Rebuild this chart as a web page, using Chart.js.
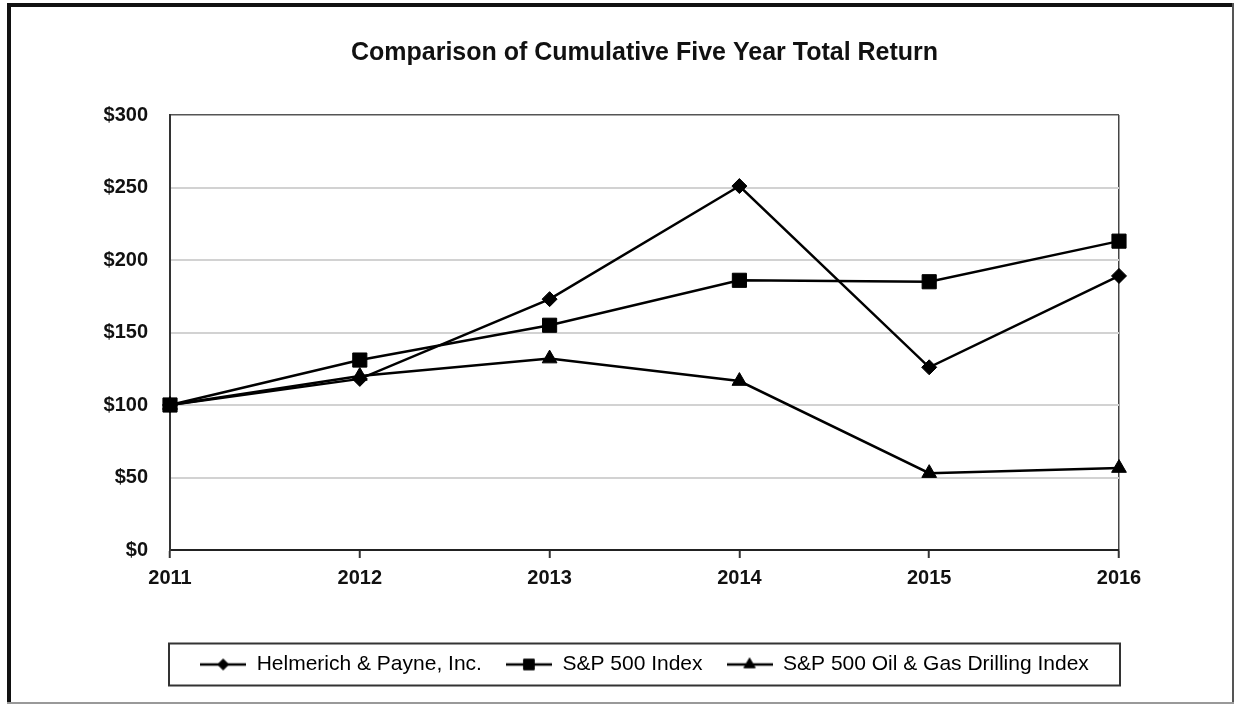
<!DOCTYPE html>
<html>
<head>
<meta charset="utf-8">
<title>Comparison of Cumulative Five Year Total Return</title>
<script src="https://cdn.jsdelivr.net/npm/chart.js@4.4.1/dist/chart.umd.min.js"></script>
<style>
    html, body { margin: 0; padding: 0; background: #fff; }
    #wrap { position: relative; width: 1235px; height: 704px; }
</style>
</head>
<body>
<div id="wrap"><canvas id="returnChart"></canvas></div>
<script>
// ── Data ────────────────────────────────────────────────────────────
const years = ['2011', '2012', '2013', '2014', '2015', '2016'];
const helmerichPayne = [100, 118, 173, 251, 126, 189];
const sp500 = [100, 131, 155, 186, 185, 213];
const oilGasDrilling = [100, 120, 132, 116.5, 53, 56.5];
const yTickLabels = ['$0', '$50', '$100', '$150', '$200', '$250', '$300'];

const FONT = "'Liberation Sans', Arial, Helvetica, sans-serif";

// legend icon: short line with the marker in the middle
function legendIcon(style, radius) {
    const c = document.createElement('canvas');
    c.width = 46; c.height = 20;
    const ctx = c.getContext('2d');
    ctx.strokeStyle = '#000';
    ctx.lineWidth = 2.5;
    ctx.beginPath();
    ctx.moveTo(0, 10); ctx.lineTo(46, 10);
    ctx.stroke();
    ctx.fillStyle = '#000';
    ctx.lineWidth = 1;
    Chart.helpers.drawPoint(ctx, { pointStyle: style, radius, rotation: 0, borderWidth: 1 }, 23, 10);
    return c;
}

// ── Frame + legend box ──────────────────────────────────────────────
const framePlugin = {
    id: 'frame',
    beforeDraw(chart) {
        const { ctx, width, height } = chart;
        ctx.save();
        ctx.fillStyle = '#fff';
        ctx.fillRect(0, 0, width, height);
        ctx.fillStyle = '#111';
        ctx.fillRect(7, 3, 4, height - 3);   // left
        ctx.fillRect(7, 3, width - 8, 4);    // top
        ctx.fillStyle = '#555';
        ctx.fillRect(width - 3, 3, 2, height - 3); // right
        ctx.fillStyle = '#999';
        ctx.fillRect(7, height - 2, width - 8, 2); // bottom
        ctx.restore();
    },
    afterDraw(chart) {
        const lg = chart.legend;
        const boxes = lg.legendHitBoxes;
        if (!boxes || !boxes.length) return;
        const cy = boxes[0].top + boxes[0].height / 2;
        const { ctx, chartArea } = chart;
        ctx.save();
        ctx.strokeStyle = '#333';
        ctx.lineWidth = 2;
        ctx.strokeRect(chartArea.left - 1, cy - 21, chartArea.right - chartArea.left + 2, 42);
        ctx.restore();
    }
};

const series = [
    { label: 'Helmerich & Payne, Inc.', data: helmerichPayne, style: 'rectRot', radius: 7.5, icon: legendIcon('rectRot', 5.5) },
    { label: 'S&P 500 Index', data: sp500, style: 'rect', radius: 10, icon: legendIcon('rect', 7.5) },
    { label: 'S&P 500 Oil & Gas Drilling Index', data: oilGasDrilling, style: 'triangle', radius: 8.5, icon: legendIcon('triangle', 6.5) }
];

new Chart(document.getElementById('returnChart'), {
    type: 'line',
    data: {
        labels: years,
        datasets: series.map(s => ({
            label: s.label,
            data: s.data,
            borderColor: '#000',
            backgroundColor: '#000',
            borderWidth: 2.5,
            pointStyle: s.style,
            pointRadius: s.radius,
            pointBorderWidth: 1,
            pointBackgroundColor: '#000',
            pointBorderColor: '#000',
            tension: 0,
            fill: false,
            clip: false
        }))
    },
    options: {
        responsive: true,
        maintainAspectRatio: false,
        animation: false,
        layout: { padding: { top: 0, left: 20, right: 116, bottom: 19 } },
        plugins: {
            title: {
                display: true,
                fullSize: false,
                text: 'Comparison of Cumulative Five Year Total Return',
                color: '#111',
                font: { family: FONT, size: 25, weight: 'bold', lineHeight: 1.2 },
                padding: { top: 38, bottom: 47 }
            },
            legend: {
                position: 'bottom',
                fullSize: false,
                labels: {
                    color: '#111',
                    font: { family: FONT, size: 21 },
                    usePointStyle: true,
                    pointStyleWidth: 46,
                    padding: 24,
                    generateLabels: chart => chart.data.datasets.map((ds, i) => ({
                        text: ds.label,
                        pointStyle: series[i].icon,
                        fillStyle: '#000',
                        strokeStyle: '#000',
                        lineWidth: 0,
                        datasetIndex: i,
                        hidden: false
                    }))
                }
            },
            tooltip: { enabled: false }
        },
        scales: {
            x: {
                offset: false,
                grid: {
                    color: ctx => ctx.index === years.length - 1 ? '#444' : 'rgba(0,0,0,0)',
                    lineWidth: 1.5,
                    drawTicks: true,
                    tickLength: 8,
                    tickColor: '#333',
                    tickWidth: 2
                },
                border: { display: true, color: '#222', width: 2 },
                ticks: {
                    color: '#111',
                    font: { family: FONT, size: 20, weight: 'bold' },
                    padding: 8,
                    maxRotation: 0
                },
                afterFit: scale => { scale.height = 80; }
            },
            y: {
                min: 0,
                max: 300,
                grid: {
                    color: ctx => ctx.tick && ctx.tick.value === 300 ? '#555' : '#d2d2d2',
                    lineWidth: ctx => ctx.tick && ctx.tick.value === 300 ? 1.5 : 2,
                    drawTicks: false
                },
                border: { display: true, color: '#333', width: 2 },
                ticks: {
                    stepSize: 50,
                    color: '#111',
                    font: { family: FONT, size: 20, weight: 'bold' },
                    padding: 22,
                    callback: (value, index) => yTickLabels[index]
                },
                afterFit: scale => { scale.width = 150; }
            }
        }
    },
    plugins: [framePlugin]
});
</script>
</body>
</html>
